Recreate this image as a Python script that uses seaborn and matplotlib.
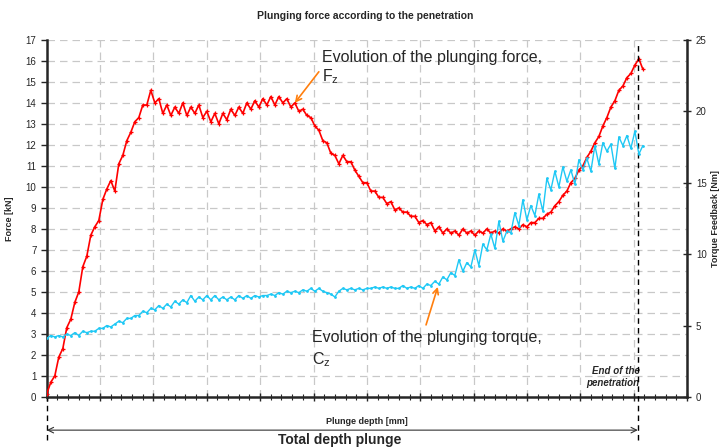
import numpy as np
import pandas as pd
import matplotlib.pyplot as plt
import seaborn as sns

# plunging force Fz [kN], one sample every 0.075 depth unit
force_kn = [
    0.15, 0.7, 1.0, 1.9, 2.3, 3.3, 3.7, 4.5, 5.0, 6.2,
    6.7, 7.7, 8.1, 8.4, 9.4, 9.9, 10.3, 9.8, 11.1, 11.5,
    12.2, 12.6, 13.1, 13.3, 13.9, 13.9, 14.6, 14.0, 14.2, 13.5,
    13.9, 13.4, 13.8, 13.5, 14.0, 13.4, 13.8, 13.5, 13.9, 13.3,
    13.6, 13.1, 13.5, 13.0, 13.5, 13.2, 13.7, 13.4, 13.8, 13.5,
    14.0, 13.7, 14.1, 13.8, 14.2, 13.9, 14.3, 13.9, 14.3, 14.0,
    14.2, 13.8, 14.0, 13.6, 13.7, 13.4, 13.3, 12.9, 12.7, 12.2,
    12.1, 11.6, 11.5, 11.1, 11.5, 11.2, 11.2, 10.8, 10.5, 10.2,
    10.2, 9.8, 9.8, 9.5, 9.5, 9.2, 9.3, 8.9, 9.0, 8.8,
    8.8, 8.6, 8.6, 8.3, 8.4, 8.2, 8.3, 7.9, 8.1, 7.8,
    8.0, 7.8, 7.9, 7.7, 8.0, 7.8, 7.9, 7.7, 7.9, 7.8,
    8.0, 7.8, 7.9, 7.8, 8.0, 7.9, 8.0, 8.1, 8.0, 8.2,
    8.1, 8.3, 8.3, 8.5, 8.5, 8.7, 8.8, 9.1, 9.3, 9.6,
    9.8, 10.2, 10.4, 10.8, 11.0, 11.4, 11.7, 12.1, 12.4, 12.9,
    13.3, 13.8, 14.1, 14.6, 14.8, 15.2, 15.4, 15.8, 16.1, 15.6,
]

# plunging torque Cz [Nm]
torque_nm = [
    4.1, 4.3, 4.2, 4.3, 4.2, 4.4, 4.3, 4.5, 4.3, 4.6,
    4.5, 4.6, 4.6, 4.8, 4.8, 5.0, 4.9, 5.1, 5.3, 5.2,
    5.5, 5.5, 5.7, 5.7, 6.0, 5.9, 6.2, 6.1, 6.4, 6.2,
    6.5, 6.3, 6.7, 6.5, 6.8, 6.6, 7.1, 6.7, 7.0, 6.8,
    7.1, 6.8, 7.1, 6.8, 7.0, 6.8, 7.0, 6.8, 7.1, 6.9,
    7.1, 6.9, 7.1, 7.0, 7.1, 7.1, 7.2, 7.1, 7.3, 7.2,
    7.4, 7.3, 7.4, 7.3, 7.5, 7.4, 7.6, 7.4, 7.6, 7.4,
    7.3, 7.2, 7.0, 7.4, 7.6, 7.5, 7.6, 7.5, 7.6, 7.5,
    7.6, 7.6, 7.7, 7.6, 7.7, 7.6, 7.7, 7.6, 7.6, 7.8,
    7.6, 7.7, 7.6, 7.8, 7.6, 7.9, 7.8, 8.1, 7.9, 8.4,
    8.2, 8.7, 8.5, 9.6, 8.8, 9.4, 9.1, 10.3, 9.2, 10.7,
    10.3, 11.4, 10.4, 12.3, 10.9, 11.6, 11.5, 12.9, 12.0, 13.8,
    12.4, 13.4, 12.7, 14.2, 13.0, 15.3, 14.5, 15.8, 14.7, 16.1,
    15.1, 15.9, 14.9, 16.6, 15.9, 16.7, 15.8, 17.6, 16.3, 17.8,
    17.2, 17.7, 16.0, 18.2, 17.6, 18.3, 17.4, 18.6, 17.0, 17.6,
]

depth = np.arange(len(force_kn)) * 0.075
end_depth = 11.08

df = pd.DataFrame({'depth': depth, 'force': force_kn, 'torque': torque_nm})

sns.set_style('white')
plt.rcParams['font.family'] = ['Liberation Sans', 'DejaVu Sans']

fig = plt.figure(figsize=(7.2, 4.48), dpi=100)
ax = fig.add_axes([0.065, 0.114, 0.889, 0.797])
ax2 = ax.twinx()

red = '#FF0000'
cyan = '#1EC8F5'
sns.lineplot(data=df, x='depth', y='force', ax=ax, color=red, linewidth=1.2,
             marker='+', markersize=3.5, markeredgewidth=0.9, markeredgecolor=red, zorder=3)
sns.lineplot(data=df, x='depth', y='torque', ax=ax2, color=cyan, linewidth=1.0,
             marker='o', markersize=2, markeredgewidth=0, markeredgecolor=cyan, zorder=3)

ax.set_xlim(0, 12)
ax.set_ylim(0, 17)
ax2.set_ylim(0, 25)
ax.set_xticks(np.arange(0, 13, 1))
ax.set_xticks(np.arange(0, 12.01, 0.2), minor=True)
ax.set_xticklabels([])
ax.set_yticks(range(0, 18))
ax2.set_yticks(range(0, 26, 5))

ax.grid(True, which='major', color='#C8C8C8', lw=0.9, linestyle=(0, (6, 4)))
for a in (ax, ax2):
    a.spines['top'].set_visible(False)
ax.spines['left'].set_linewidth(1.8)
ax.spines['bottom'].set_linewidth(1.8)
ax2.spines['right'].set_linewidth(1.8)
ax2.spines['left'].set_visible(False)
ax2.spines['bottom'].set_visible(False)

ax.tick_params(axis='y', labelsize=7, length=4, width=1, direction='out', left=True)
ax.tick_params(axis='x', which='major', length=6, width=1, direction='inout', bottom=True)
ax.tick_params(axis='x', which='minor', length=5, width=0.8, direction='inout', bottom=True)
ax2.tick_params(axis='y', labelsize=7, length=6, width=1, direction='inout', right=True)

ax.set_xlabel('Plunge depth [mm]', fontsize=6.5, fontweight='bold', labelpad=8)
ax.set_ylabel('Force [kN]', fontsize=6.5, fontweight='bold', labelpad=8)
ax2.set_ylabel('Torque Feedback [Nm]', fontsize=6.5, fontweight='bold', labelpad=3)
fig.suptitle('Plunging force according to the penetration', fontsize=7.5,
             fontweight='bold', x=0.507, y=0.975)

# end of penetration marker and total depth arrow
ax.axvline(end_depth, ymin=-0.12, ymax=0.985, color='black', lw=1,
           linestyle=(0, (4, 3)), clip_on=False, zorder=4)
ax.axvline(0, ymin=-0.12, ymax=0, color='black', lw=1,
           linestyle=(0, (4, 3)), clip_on=False)
tr = ax.get_xaxis_transform()
ax.annotate('', xy=(end_depth, -0.093), xytext=(0, -0.093), xycoords=tr, textcoords=tr,
            arrowprops=dict(arrowstyle='<->', lw=0.8, color='#333333',
                            shrinkA=0, shrinkB=0, mutation_scale=10),
            annotation_clip=False)
ax.text(5.5, -0.12, 'Total depth plunge', transform=tr, ha='center', va='center',
        fontsize=10, fontweight='bold')
ax.text(end_depth + 0.03, 0.025, 'End of the\npenetration', transform=tr,
        ha='right', va='bottom', fontsize=7, fontweight='bold', style='italic')

# annotations (force axis coordinates)
ax.text(5.16, 16.14, 'Evolution of the plunging force,', fontsize=11.5, va='center', ha='left')
ax.text(5.16, 15.24, r'F$_\mathregular{z}$', fontsize=11.5, va='center', ha='left')
ax.annotate('', xy=(4.65, 14.0), xytext=(5.1, 15.48),
            arrowprops=dict(arrowstyle='->', color='#FF7F0E', lw=1.2, shrinkA=0, shrinkB=0))
ax.text(4.97, 2.81, 'Evolution of the plunging torque,', fontsize=11.5, va='center', ha='left')
ax.text(4.97, 1.76, r'C$_\mathregular{z}$', fontsize=11.5, va='center', ha='left')
ax.annotate('', xy=(7.33, 5.24), xytext=(7.11, 3.43),
            arrowprops=dict(arrowstyle='->', color='#FF7F0E', lw=1.2, shrinkA=0, shrinkB=0))

fig.savefig('out.png', dpi=100)
